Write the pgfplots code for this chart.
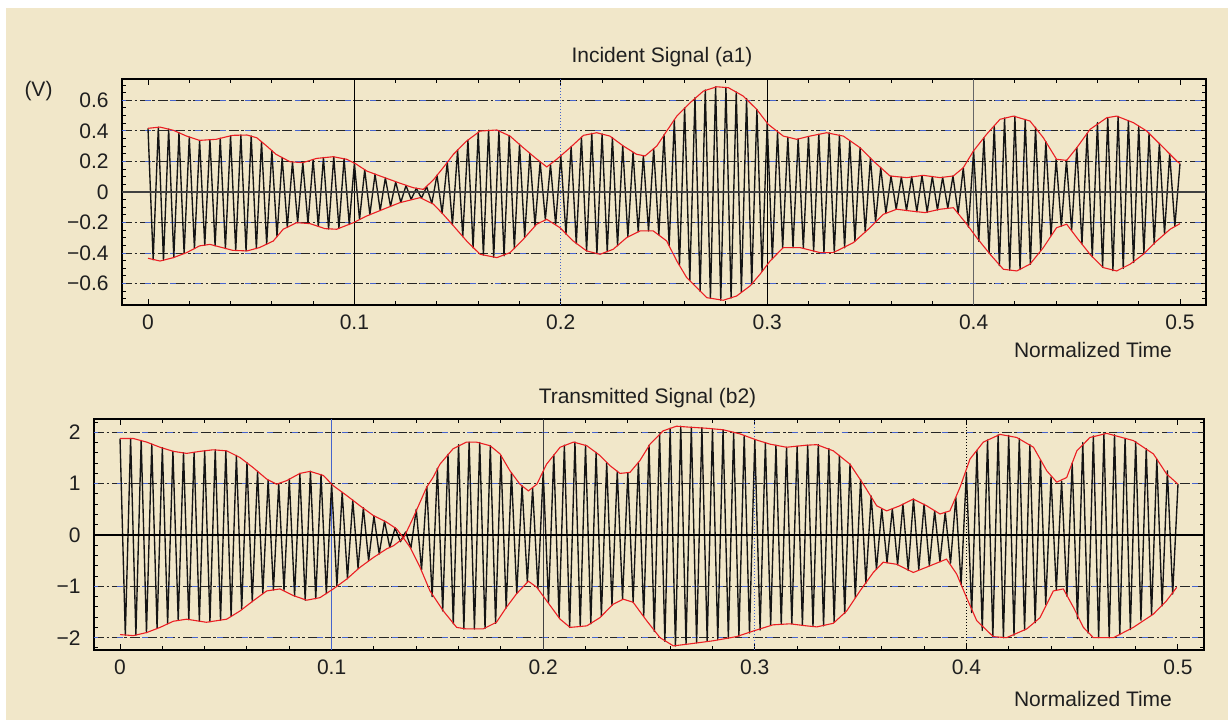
\documentclass[border=0pt]{standalone}
\usepackage{fontspec}
\setmainfont{Liberation Sans}
\usepackage{pgfplots}
\usepackage{pgfplotstable}
\pgfplotsset{compat=1.18}
\definecolor{bg}{RGB}{241,231,201}
\definecolor{gridblue}{RGB}{70,100,205}
\definecolor{envred}{RGB}{235,30,35}

\pgfplotstableread[row sep=\\]{
t y\\
0.0000 0.417\\ 0.0025 -0.444\\ 0.0050 0.424\\ 0.0075 -0.447\\ 0.0100 0.412\\ 0.0125 -0.429\\ 0.0150 0.388\\ 0.0175 -0.403\\ 0.0200 0.360\\ 0.0225 -0.370\\
0.0250 0.338\\ 0.0275 -0.348\\ 0.0300 0.342\\ 0.0325 -0.352\\ 0.0350 0.352\\ 0.0375 -0.370\\ 0.0400 0.368\\ 0.0425 -0.383\\ 0.0450 0.373\\ 0.0475 -0.386\\
0.0500 0.366\\ 0.0525 -0.370\\ 0.0550 0.330\\ 0.0575 -0.342\\ 0.0600 0.272\\ 0.0625 -0.292\\ 0.0650 0.225\\ 0.0675 -0.231\\ 0.0700 0.197\\ 0.0725 -0.201\\
0.0750 0.192\\ 0.0775 -0.206\\ 0.0800 0.213\\ 0.0825 -0.225\\ 0.0850 0.225\\ 0.0875 -0.242\\ 0.0900 0.231\\ 0.0925 -0.238\\ 0.0950 0.219\\ 0.0975 -0.212\\
0.1000 0.189\\ 0.1025 -0.180\\ 0.1050 0.146\\ 0.1075 -0.148\\ 0.1100 0.117\\ 0.1125 -0.121\\ 0.1150 0.092\\ 0.1175 -0.094\\ 0.1200 0.065\\ 0.1225 -0.068\\
0.1250 0.042\\ 0.1275 -0.048\\ 0.1300 0.024\\ 0.1325 -0.040\\ 0.1350 0.035\\ 0.1375 -0.075\\ 0.1400 0.110\\ 0.1425 -0.139\\ 0.1450 0.195\\ 0.1475 -0.214\\
0.1500 0.275\\ 0.1525 -0.292\\ 0.1550 0.340\\ 0.1575 -0.366\\ 0.1600 0.392\\ 0.1625 -0.413\\ 0.1650 0.405\\ 0.1675 -0.427\\ 0.1700 0.403\\ 0.1725 -0.418\\
0.1750 0.370\\ 0.1775 -0.370\\ 0.1800 0.312\\ 0.1825 -0.297\\ 0.1850 0.253\\ 0.1875 -0.220\\ 0.1900 0.196\\ 0.1925 -0.180\\ 0.1950 0.180\\ 0.1975 -0.212\\
0.2000 0.237\\ 0.2025 -0.276\\ 0.2050 0.296\\ 0.2075 -0.339\\ 0.2100 0.358\\ 0.2125 -0.386\\ 0.2150 0.384\\ 0.2175 -0.404\\ 0.2200 0.380\\ 0.2225 -0.391\\
0.2250 0.356\\ 0.2275 -0.352\\ 0.2300 0.304\\ 0.2325 -0.294\\ 0.2350 0.260\\ 0.2375 -0.260\\ 0.2400 0.238\\ 0.2425 -0.255\\ 0.2450 0.283\\ 0.2475 -0.280\\
0.2500 0.375\\ 0.2525 -0.350\\ 0.2550 0.472\\ 0.2575 -0.480\\ 0.2600 0.550\\ 0.2625 -0.580\\ 0.2650 0.618\\ 0.2675 -0.650\\ 0.2700 0.668\\ 0.2725 -0.697\\
0.2750 0.688\\ 0.2775 -0.708\\ 0.2800 0.685\\ 0.2825 -0.694\\ 0.2850 0.655\\ 0.2875 -0.654\\ 0.2900 0.612\\ 0.2925 -0.605\\ 0.2950 0.540\\ 0.2975 -0.520\\
0.3000 0.453\\ 0.3025 -0.437\\ 0.3050 0.392\\ 0.3075 -0.366\\ 0.3100 0.358\\ 0.3125 -0.364\\ 0.3150 0.347\\ 0.3175 -0.367\\ 0.3200 0.363\\ 0.3225 -0.387\\
0.3250 0.378\\ 0.3275 -0.397\\ 0.3300 0.387\\ 0.3325 -0.396\\ 0.3350 0.372\\ 0.3375 -0.365\\ 0.3400 0.335\\ 0.3425 -0.322\\ 0.3450 0.290\\ 0.3475 -0.262\\
0.3500 0.222\\ 0.3525 -0.195\\ 0.3550 0.160\\ 0.3575 -0.138\\ 0.3600 0.104\\ 0.3625 -0.113\\ 0.3650 0.097\\ 0.3675 -0.121\\ 0.3700 0.101\\ 0.3725 -0.129\\
0.3750 0.108\\ 0.3775 -0.132\\ 0.3800 0.101\\ 0.3825 -0.117\\ 0.3850 0.096\\ 0.3875 -0.107\\ 0.3900 0.105\\ 0.3925 -0.140\\ 0.3950 0.159\\ 0.3975 -0.230\\
0.4000 0.268\\ 0.4025 -0.323\\ 0.4050 0.354\\ 0.4075 -0.401\\ 0.4100 0.432\\ 0.4125 -0.482\\ 0.4150 0.484\\ 0.4175 -0.512\\ 0.4200 0.496\\ 0.4225 -0.508\\
0.4250 0.475\\ 0.4275 -0.473\\ 0.4300 0.423\\ 0.4325 -0.384\\ 0.4350 0.330\\ 0.4375 -0.286\\ 0.4400 0.214\\ 0.4425 -0.224\\ 0.4450 0.207\\ 0.4475 -0.250\\
0.4500 0.290\\ 0.4525 -0.340\\ 0.4550 0.383\\ 0.4575 -0.425\\ 0.4600 0.455\\ 0.4625 -0.493\\ 0.4650 0.487\\ 0.4675 -0.515\\ 0.4700 0.495\\ 0.4725 -0.500\\
0.4750 0.467\\ 0.4775 -0.462\\ 0.4800 0.430\\ 0.4825 -0.405\\ 0.4850 0.385\\ 0.4875 -0.340\\ 0.4900 0.318\\ 0.4925 -0.274\\ 0.4950 0.250\\ 0.4975 -0.225\\
0.5000 0.186\\
}\topcar

\pgfplotstableread[row sep=\\]{
t y\\
0 0.417\\ 0.0058 0.425\\ 0.0123 0.404\\ 0.0187 0.366\\ 0.025 0.338\\ 0.033 0.345\\ 0.041 0.371\\ 0.048 0.373\\ 0.0527 0.355\\ 0.0575 0.301\\
0.062 0.247\\ 0.0688 0.198\\ 0.075 0.192\\ 0.0817 0.22\\ 0.0898 0.231\\ 0.0963 0.214\\ 0.1006 0.185\\ 0.106 0.137\\ 0.1124 0.105\\ 0.122 0.058\\
0.1285 0.028\\ 0.1334 0.017\\ 0.1383 0.08\\ 0.143 0.159\\ 0.148 0.247\\ 0.1544 0.334\\ 0.1609 0.399\\ 0.169 0.406\\ 0.1754 0.366\\ 0.1818 0.29\\
0.1875 0.225\\ 0.1932 0.164\\ 0.198 0.214\\ 0.2045 0.29\\ 0.211 0.371\\ 0.2174 0.388\\ 0.2238 0.366\\ 0.2303 0.301\\ 0.2367 0.247\\ 0.2408 0.236\\
0.2465 0.301\\ 0.2513 0.399\\ 0.2562 0.497\\ 0.2626 0.584\\ 0.2691 0.661\\ 0.2755 0.689\\ 0.2812 0.683\\ 0.2884 0.628\\ 0.2949 0.541\\ 0.3005 0.443\\
0.3078 0.366\\ 0.3143 0.345\\ 0.3207 0.366\\ 0.3288 0.388\\ 0.3369 0.366\\ 0.345 0.29\\ 0.3514 0.203\\ 0.3595 0.105\\ 0.3676 0.094\\ 0.3756 0.109\\
0.3837 0.094\\ 0.3902 0.105\\ 0.395 0.159\\ 0.3999 0.268\\ 0.4063 0.378\\ 0.4128 0.476\\ 0.4193 0.497\\ 0.4273 0.465\\ 0.4338 0.355\\ 0.4402 0.214\\
0.4451 0.207\\ 0.45 0.29\\ 0.4564 0.41\\ 0.4645 0.486\\ 0.4693 0.497\\ 0.4774 0.454\\ 0.4839 0.399\\ 0.492 0.29\\ 0.4984 0.203\\ 0.5 0.186\\
}\topup

\pgfplotstableread[row sep=\\]{
t y\\
0 -0.434\\ 0.0058 -0.452\\ 0.0123 -0.43\\ 0.0187 -0.397\\ 0.025 -0.353\\ 0.030 -0.343\\ 0.041 -0.382\\ 0.048 -0.386\\ 0.054 -0.364\\ 0.0607 -0.321\\
0.0655 -0.244\\ 0.072 -0.201\\ 0.0785 -0.207\\ 0.0857 -0.24\\ 0.0914 -0.244\\ 0.0995 -0.201\\ 0.106 -0.157\\ 0.114 -0.113\\ 0.122 -0.07\\ 0.1318 -0.037\\
0.1383 -0.08\\ 0.143 -0.146\\ 0.148 -0.222\\ 0.1544 -0.321\\ 0.1609 -0.408\\ 0.169 -0.43\\ 0.1754 -0.397\\ 0.1818 -0.31\\ 0.1883 -0.211\\ 0.1932 -0.179\\
0.1996 -0.234\\ 0.206 -0.321\\ 0.2125 -0.386\\ 0.219 -0.408\\ 0.2254 -0.375\\ 0.2319 -0.299\\ 0.2384 -0.255\\ 0.2448 -0.255\\ 0.2513 -0.321\\ 0.2562 -0.452\\
0.261 -0.561\\ 0.2658 -0.626\\ 0.2707 -0.692\\ 0.2787 -0.709\\ 0.2852 -0.681\\ 0.2917 -0.615\\ 0.2965 -0.539\\ 0.3014 -0.452\\ 0.3078 -0.364\\ 0.3159 -0.364\\
0.3256 -0.397\\ 0.332 -0.397\\ 0.3417 -0.332\\ 0.3498 -0.234\\ 0.3563 -0.146\\ 0.3627 -0.113\\ 0.3692 -0.124\\ 0.3765 -0.135\\ 0.3837 -0.113\\ 0.3902 -0.103\\
0.3967 -0.211\\ 0.4015 -0.299\\ 0.408 -0.408\\ 0.4144 -0.506\\ 0.4209 -0.517\\ 0.4273 -0.473\\ 0.4338 -0.364\\ 0.4402 -0.234\\ 0.4451 -0.211\\ 0.45 -0.299\\
0.4564 -0.408\\ 0.4628 -0.495\\ 0.4693 -0.517\\ 0.4758 -0.473\\ 0.4822 -0.408\\ 0.4887 -0.321\\ 0.4952 -0.244\\ 0.5 -0.207\\
}\toplo

\pgfplotstableread[row sep=\\]{
t y\\
0.0000 1.88\\ 0.0025 -1.95\\ 0.0050 1.88\\ 0.0075 -1.95\\ 0.0100 1.84\\ 0.0125 -1.90\\ 0.0150 1.77\\ 0.0175 -1.82\\ 0.0200 1.70\\ 0.0225 -1.73\\
0.0250 1.63\\ 0.0275 -1.66\\ 0.0300 1.60\\ 0.0325 -1.65\\ 0.0350 1.61\\ 0.0375 -1.68\\ 0.0400 1.64\\ 0.0425 -1.69\\ 0.0450 1.66\\ 0.0475 -1.66\\
0.0500 1.64\\ 0.0525 -1.58\\ 0.0550 1.55\\ 0.0575 -1.45\\ 0.0600 1.41\\ 0.0625 -1.30\\ 0.0650 1.24\\ 0.0675 -1.14\\ 0.0700 1.07\\ 0.0725 -1.07\\
0.0750 1.00\\ 0.0775 -1.08\\ 0.0800 1.09\\ 0.0825 -1.19\\ 0.0850 1.20\\ 0.0875 -1.27\\ 0.0900 1.24\\ 0.0925 -1.24\\ 0.0950 1.18\\ 0.0975 -1.14\\
0.1000 1.00\\ 0.1025 -0.99\\ 0.1050 0.83\\ 0.1075 -0.85\\ 0.1100 0.68\\ 0.1125 -0.65\\ 0.1150 0.53\\ 0.1175 -0.50\\ 0.1200 0.37\\ 0.1225 -0.37\\
0.1250 0.27\\ 0.1275 -0.24\\ 0.1300 0.14\\ 0.1325 -0.13\\ 0.1350 0.06\\ 0.1375 -0.25\\ 0.1400 0.50\\ 0.1425 -0.68\\ 0.1450 0.94\\ 0.1475 -1.20\\
0.1500 1.30\\ 0.1525 -1.48\\ 0.1550 1.57\\ 0.1575 -1.73\\ 0.1600 1.76\\ 0.1625 -1.83\\ 0.1650 1.81\\ 0.1675 -1.83\\ 0.1700 1.80\\ 0.1725 -1.82\\
0.1750 1.74\\ 0.1775 -1.72\\ 0.1800 1.55\\ 0.1825 -1.42\\ 0.1850 1.21\\ 0.1875 -1.14\\ 0.1900 0.96\\ 0.1925 -0.91\\ 0.1950 0.91\\ 0.1975 -1.04\\
0.2000 1.24\\ 0.2025 -1.32\\ 0.2050 1.56\\ 0.2075 -1.61\\ 0.2100 1.75\\ 0.2125 -1.80\\ 0.2150 1.81\\ 0.2175 -1.78\\ 0.2200 1.75\\ 0.2225 -1.73\\
0.2250 1.61\\ 0.2275 -1.58\\ 0.2300 1.41\\ 0.2325 -1.37\\ 0.2350 1.24\\ 0.2375 -1.25\\ 0.2400 1.21\\ 0.2425 -1.31\\ 0.2450 1.41\\ 0.2475 -1.58\\
0.2500 1.75\\ 0.2525 -1.88\\ 0.2550 1.97\\ 0.2575 -2.07\\ 0.2600 2.08\\ 0.2625 -2.16\\ 0.2650 2.12\\ 0.2675 -2.13\\ 0.2700 2.10\\ 0.2725 -2.10\\
0.2750 2.09\\ 0.2775 -2.07\\ 0.2800 2.07\\ 0.2825 -2.04\\ 0.2850 2.05\\ 0.2875 -2.01\\ 0.2900 2.00\\ 0.2925 -1.97\\ 0.2950 1.94\\ 0.2975 -1.91\\
0.3000 1.86\\ 0.3025 -1.85\\ 0.3050 1.80\\ 0.3075 -1.76\\ 0.3100 1.75\\ 0.3125 -1.74\\ 0.3150 1.71\\ 0.3175 -1.73\\ 0.3200 1.73\\ 0.3225 -1.76\\
0.3250 1.75\\ 0.3275 -1.78\\ 0.3300 1.76\\ 0.3325 -1.77\\ 0.3350 1.68\\ 0.3375 -1.70\\ 0.3400 1.55\\ 0.3425 -1.53\\ 0.3450 1.38\\ 0.3475 -1.22\\
0.3500 1.08\\ 0.3525 -0.94\\ 0.3550 0.76\\ 0.3575 -0.67\\ 0.3600 0.51\\ 0.3625 -0.54\\ 0.3650 0.51\\ 0.3675 -0.58\\ 0.3700 0.60\\ 0.3725 -0.69\\
0.3750 0.70\\ 0.3775 -0.67\\ 0.3800 0.60\\ 0.3825 -0.60\\ 0.3850 0.47\\ 0.3875 -0.52\\ 0.3900 0.44\\ 0.3925 -0.55\\ 0.3950 0.73\\ 0.3975 -0.97\\
0.4000 1.22\\ 0.4025 -1.51\\ 0.4050 1.65\\ 0.4075 -1.86\\ 0.4100 1.85\\ 0.4125 -1.98\\ 0.4150 1.95\\ 0.4175 -2.00\\ 0.4200 1.94\\ 0.4225 -1.95\\
0.4250 1.88\\ 0.4275 -1.85\\ 0.4300 1.76\\ 0.4325 -1.71\\ 0.4350 1.46\\ 0.4375 -1.35\\ 0.4400 1.13\\ 0.4425 -1.07\\ 0.4450 1.05\\ 0.4475 -1.19\\
0.4500 1.40\\ 0.4525 -1.63\\ 0.4550 1.80\\ 0.4575 -1.91\\ 0.4600 1.93\\ 0.4625 -2.00\\ 0.4650 1.97\\ 0.4675 -2.00\\ 0.4700 1.95\\ 0.4725 -1.94\\
0.4750 1.88\\ 0.4775 -1.84\\ 0.4800 1.82\\ 0.4825 -1.66\\ 0.4850 1.68\\ 0.4875 -1.56\\ 0.4900 1.48\\ 0.4925 -1.38\\ 0.4950 1.25\\ 0.4975 -1.15\\
0.5000 0.99\\
}\botcar

\pgfplotstableread[row sep=\\]{
t y\\
0 1.88\\ 0.0063 1.88\\ 0.0126 1.81\\ 0.0189 1.71\\ 0.0252 1.63\\ 0.0315 1.59\\ 0.0378 1.63\\ 0.044 1.66\\ 0.0504 1.64\\ 0.0567 1.51\\
0.063 1.31\\ 0.0693 1.09\\ 0.074 0.99\\ 0.0788 1.06\\ 0.085 1.20\\ 0.0898 1.24\\ 0.0961 1.16\\ 0.1008 0.96\\ 0.1071 0.77\\ 0.1134 0.57\\
0.1197 0.38\\ 0.126 0.25\\ 0.1307 0.12\\ 0.134 -0.06\\ 0.1386 0.34\\ 0.1449 0.93\\ 0.1479 1.12\\ 0.1512 1.38\\ 0.1574 1.68\\ 0.1637 1.81\\
0.1684 1.81\\ 0.1749 1.74\\ 0.1796 1.58\\ 0.1843 1.25\\ 0.189 0.99\\ 0.193 0.86\\ 0.197 0.99\\ 0.2016 1.38\\ 0.208 1.71\\ 0.2143 1.81\\
0.2206 1.74\\ 0.2268 1.55\\ 0.2316 1.35\\ 0.2363 1.20\\ 0.241 1.22\\ 0.2457 1.45\\ 0.2505 1.77\\ 0.2567 2.03\\ 0.263 2.12\\ 0.2694 2.10\\
0.2772 2.08\\ 0.2851 2.05\\ 0.293 1.97\\ 0.3009 1.85\\ 0.3072 1.77\\ 0.315 1.71\\ 0.3245 1.75\\ 0.3293 1.76\\ 0.3371 1.64\\ 0.345 1.38\\
0.3513 0.99\\ 0.3576 0.57\\ 0.3623 0.47\\ 0.3686 0.57\\ 0.3749 0.70\\ 0.3812 0.57\\ 0.3875 0.41\\ 0.3922 0.47\\ 0.397 0.93\\ 0.4017 1.48\\
0.408 1.81\\ 0.4159 1.96\\ 0.4238 1.90\\ 0.4317 1.71\\ 0.438 1.25\\ 0.4427 1.03\\ 0.4474 1.12\\ 0.4522 1.64\\ 0.4584 1.90\\ 0.4663 1.98\\
0.4789 1.84\\ 0.4884 1.58\\ 0.4946 1.19\\ 0.5 0.99\\
}\botup

\pgfplotstableread[row sep=\\]{
t y\\
0 -1.94\\ 0.0063 -1.96\\ 0.0126 -1.90\\ 0.0189 -1.80\\ 0.0252 -1.68\\ 0.0315 -1.64\\ 0.0408 -1.70\\ 0.0504 -1.64\\ 0.0567 -1.48\\ 0.063 -1.28\\
0.0693 -1.09\\ 0.0756 -1.05\\ 0.0819 -1.18\\ 0.0882 -1.27\\ 0.0945 -1.22\\ 0.1008 -1.05\\ 0.1071 -0.86\\ 0.1134 -0.63\\ 0.1197 -0.44\\ 0.126 -0.27\\
0.1292 -0.21\\ 0.134 -0.06\\ 0.1371 -0.24\\ 0.1418 -0.63\\ 0.1465 -1.09\\ 0.1528 -1.48\\ 0.1591 -1.80\\ 0.1637 -1.83\\ 0.1716 -1.83\\ 0.1779 -1.70\\
0.1826 -1.41\\ 0.1873 -1.15\\ 0.193 -0.90\\ 0.197 -1.02\\ 0.2016 -1.28\\ 0.208 -1.64\\ 0.2127 -1.80\\ 0.2206 -1.77\\ 0.2268 -1.61\\ 0.233 -1.35\\
0.2378 -1.25\\ 0.2425 -1.31\\ 0.2489 -1.67\\ 0.2552 -2.00\\ 0.2615 -2.16\\ 0.2694 -2.12\\ 0.2804 -2.06\\ 0.2913 -1.98\\ 0.2993 -1.87\\ 0.3086 -1.75\\
0.3166 -1.73\\ 0.3245 -1.77\\ 0.3293 -1.79\\ 0.3371 -1.72\\ 0.3434 -1.48\\ 0.3497 -1.09\\ 0.356 -0.73\\ 0.3607 -0.53\\ 0.367 -0.57\\ 0.3749 -0.73\\
0.3828 -0.60\\ 0.3906 -0.47\\ 0.3954 -0.76\\ 0.4001 -1.22\\ 0.4049 -1.67\\ 0.4127 -1.98\\ 0.419 -2.00\\ 0.4285 -1.83\\ 0.4348 -1.61\\ 0.4411 -1.09\\
0.4458 -1.05\\ 0.4506 -1.41\\ 0.4553 -1.80\\ 0.46 -2.00\\ 0.4695 -2.00\\ 0.4789 -1.80\\ 0.4884 -1.54\\ 0.4946 -1.28\\ 0.4994 -1.02\\
}\botlo

\pgfplotsset{
  sigaxis/.style={
    scale only axis, anchor=south west, clip=true,
    axis line style={black, line width=1pt},
    tick style={black, line width=0.5pt},
    major tick length=3.2pt, minor tick length=2pt,
    tick align=inside, xtick pos=both, ytick pos=both,
    xticklabel pos=bottom, yticklabel pos=left,
    ticklabel style={font=\fontsize{10.5}{12}\selectfont, text=black!88},
    xticklabel style={yshift=-1.2pt},
    yticklabel style={xshift=-3.2pt},
    xtick={0,0.1,0.2,0.3,0.4,0.5},
    xticklabels={0,0.1,0.2,0.3,0.4,0.5},
    minor xtick={0.02,0.04,0.06,0.08,0.12,0.14,0.16,0.18,0.22,0.24,0.26,0.28,0.32,0.34,0.36,0.38,0.42,0.44,0.46,0.48},
  },
  hgridk/.style={black!85, line width=0.55pt, dash pattern=on 5pt off 1.3pt on 1.3pt off 1.3pt},
  hgridb/.style={gridblue, line width=0.55pt, dash pattern=on 3pt off 9.5pt, dash phase=1pt},
  carrier/.style={black!92, line width=0.68pt, line join=round, mark=none},
  env/.style={envred, line width=0.55pt, mark=none},
}

\begin{document}
\begin{tikzpicture}[x=1pt,y=1pt]
\useasboundingbox (0,0) rectangle (614,364);
\fill[bg] (3,4) rectangle (614,360);

% ---------- top panel ----------
\begin{axis}[sigaxis, at={(61pt,211.5pt)}, width=542pt, height=113pt,
  xmin=-0.0126, xmax=0.5126, ymin=-0.74, ymax=0.74,
  ytick={-0.6,-0.4,-0.2,0,0.2,0.4,0.6},
  yticklabels={−0.6,−0.4,−0.2,0,0.2,0.4,0.6},
  minor ytick={-0.7,-0.65,-0.55,-0.5,-0.45,-0.35,-0.3,-0.25,-0.15,-0.1,-0.05,0.05,0.1,0.15,0.25,0.3,0.35,0.45,0.5,0.55,0.65,0.7},
]
\addplot[hgridk] coordinates {(-0.0126,0.6) (0.5126,0.6)};
\addplot[hgridb] coordinates {(-0.0126,0.6) (0.5126,0.6)};
\addplot[hgridk] coordinates {(-0.0126,0.4) (0.5126,0.4)};
\addplot[hgridb] coordinates {(-0.0126,0.4) (0.5126,0.4)};
\addplot[hgridk] coordinates {(-0.0126,0.2) (0.5126,0.2)};
\addplot[hgridb] coordinates {(-0.0126,0.2) (0.5126,0.2)};
\addplot[hgridk] coordinates {(-0.0126,-0.2) (0.5126,-0.2)};
\addplot[hgridb] coordinates {(-0.0126,-0.2) (0.5126,-0.2)};
\addplot[hgridk] coordinates {(-0.0126,-0.4) (0.5126,-0.4)};
\addplot[hgridb] coordinates {(-0.0126,-0.4) (0.5126,-0.4)};
\addplot[hgridk] coordinates {(-0.0126,-0.6) (0.5126,-0.6)};
\addplot[hgridb] coordinates {(-0.0126,-0.6) (0.5126,-0.6)};
\addplot[black, line width=0.7pt] coordinates {(0.1,-0.74) (0.1,0.74)};
\addplot[gridblue, line width=0.5pt, densely dotted] coordinates {(0.2,-0.74) (0.2,0.74)};
\addplot[black, line width=0.6pt] coordinates {(0.3,-0.74) (0.3,0.74)};
\addplot[black!60, line width=0.6pt] coordinates {(0.4,-0.74) (0.4,0.74)};
\addplot[carrier] table[x=t, y=y] {\topcar};
\addplot[black!75, line width=0.6pt] coordinates {(-0.0126,0) (0.5126,0)};
\addplot[env] table[x=t, y=y] {\topup};
\addplot[env] table[x=t, y=y] {\toplo};
\end{axis}

% ---------- bottom panel ----------
\begin{axis}[sigaxis, at={(47pt,39pt)}, width=555pt, height=115.5pt,
  xmin=-0.0123, xmax=0.5123, ymin=-2.24, ymax=2.26,
  ytick={-2,-1,0,1,2},
  yticklabels={−2,−1,0,1,2},
  minor ytick={-2.2,-1.8,-1.6,-1.4,-1.2,-0.8,-0.6,-0.4,-0.2,0.2,0.4,0.6,0.8,1.2,1.4,1.6,1.8,2.2},
]
\addplot[hgridk] coordinates {(-0.0123,2) (0.5123,2)};
\addplot[hgridb] coordinates {(-0.0123,2) (0.5123,2)};
\addplot[hgridk, line width=0.8pt] coordinates {(-0.0123,1) (0.5123,1)};
\addplot[hgridb] coordinates {(-0.0123,1) (0.5123,1)};
\addplot[hgridk, line width=0.8pt] coordinates {(-0.0123,-1) (0.5123,-1)};
\addplot[hgridb] coordinates {(-0.0123,-1) (0.5123,-1)};
\addplot[hgridk] coordinates {(-0.0123,-2) (0.5123,-2)};
\addplot[hgridb] coordinates {(-0.0123,-2) (0.5123,-2)};
\addplot[gridblue, line width=0.5pt] coordinates {(0.1,-2.24) (0.1,2.26)};
\addplot[black!75, line width=0.6pt] coordinates {(0.2,-2.24) (0.2,2.26)};
\addplot[gridblue, line width=0.5pt, densely dotted] coordinates {(0.3,-2.24) (0.3,2.26)};
\addplot[black, line width=0.5pt, densely dotted] coordinates {(0.4,-2.24) (0.4,2.26)};
\addplot[carrier] table[x=t, y=y] {\botcar};
\addplot[black, line width=1.4pt] coordinates {(-0.0123,0) (0.5123,0)};
\addplot[env] table[x=t, y=y] {\botup};
\addplot[env] table[x=t, y=y] {\botlo};
\end{axis}

% ---------- texts ----------
\node[font=\fontsize{10.5}{12}\selectfont, text=black!88] at (331,335.5) {Incident Signal (a1)};
\node[font=\fontsize{10.5}{12}\selectfont, text=black!88] at (19.25,318.25) {(V)};
\node[font=\fontsize{10.5}{12}\selectfont, text=black!88, anchor=east] at (589.5,189) {Normalized Time};
\node[font=\fontsize{10.5}{12}\selectfont, text=black!88] at (323.75,165) {Transmitted Signal (b2)};
\node[font=\fontsize{10.5}{12}\selectfont, text=black!88, anchor=east] at (589.5,14.5) {Normalized Time};
\end{tikzpicture}
\end{document}
